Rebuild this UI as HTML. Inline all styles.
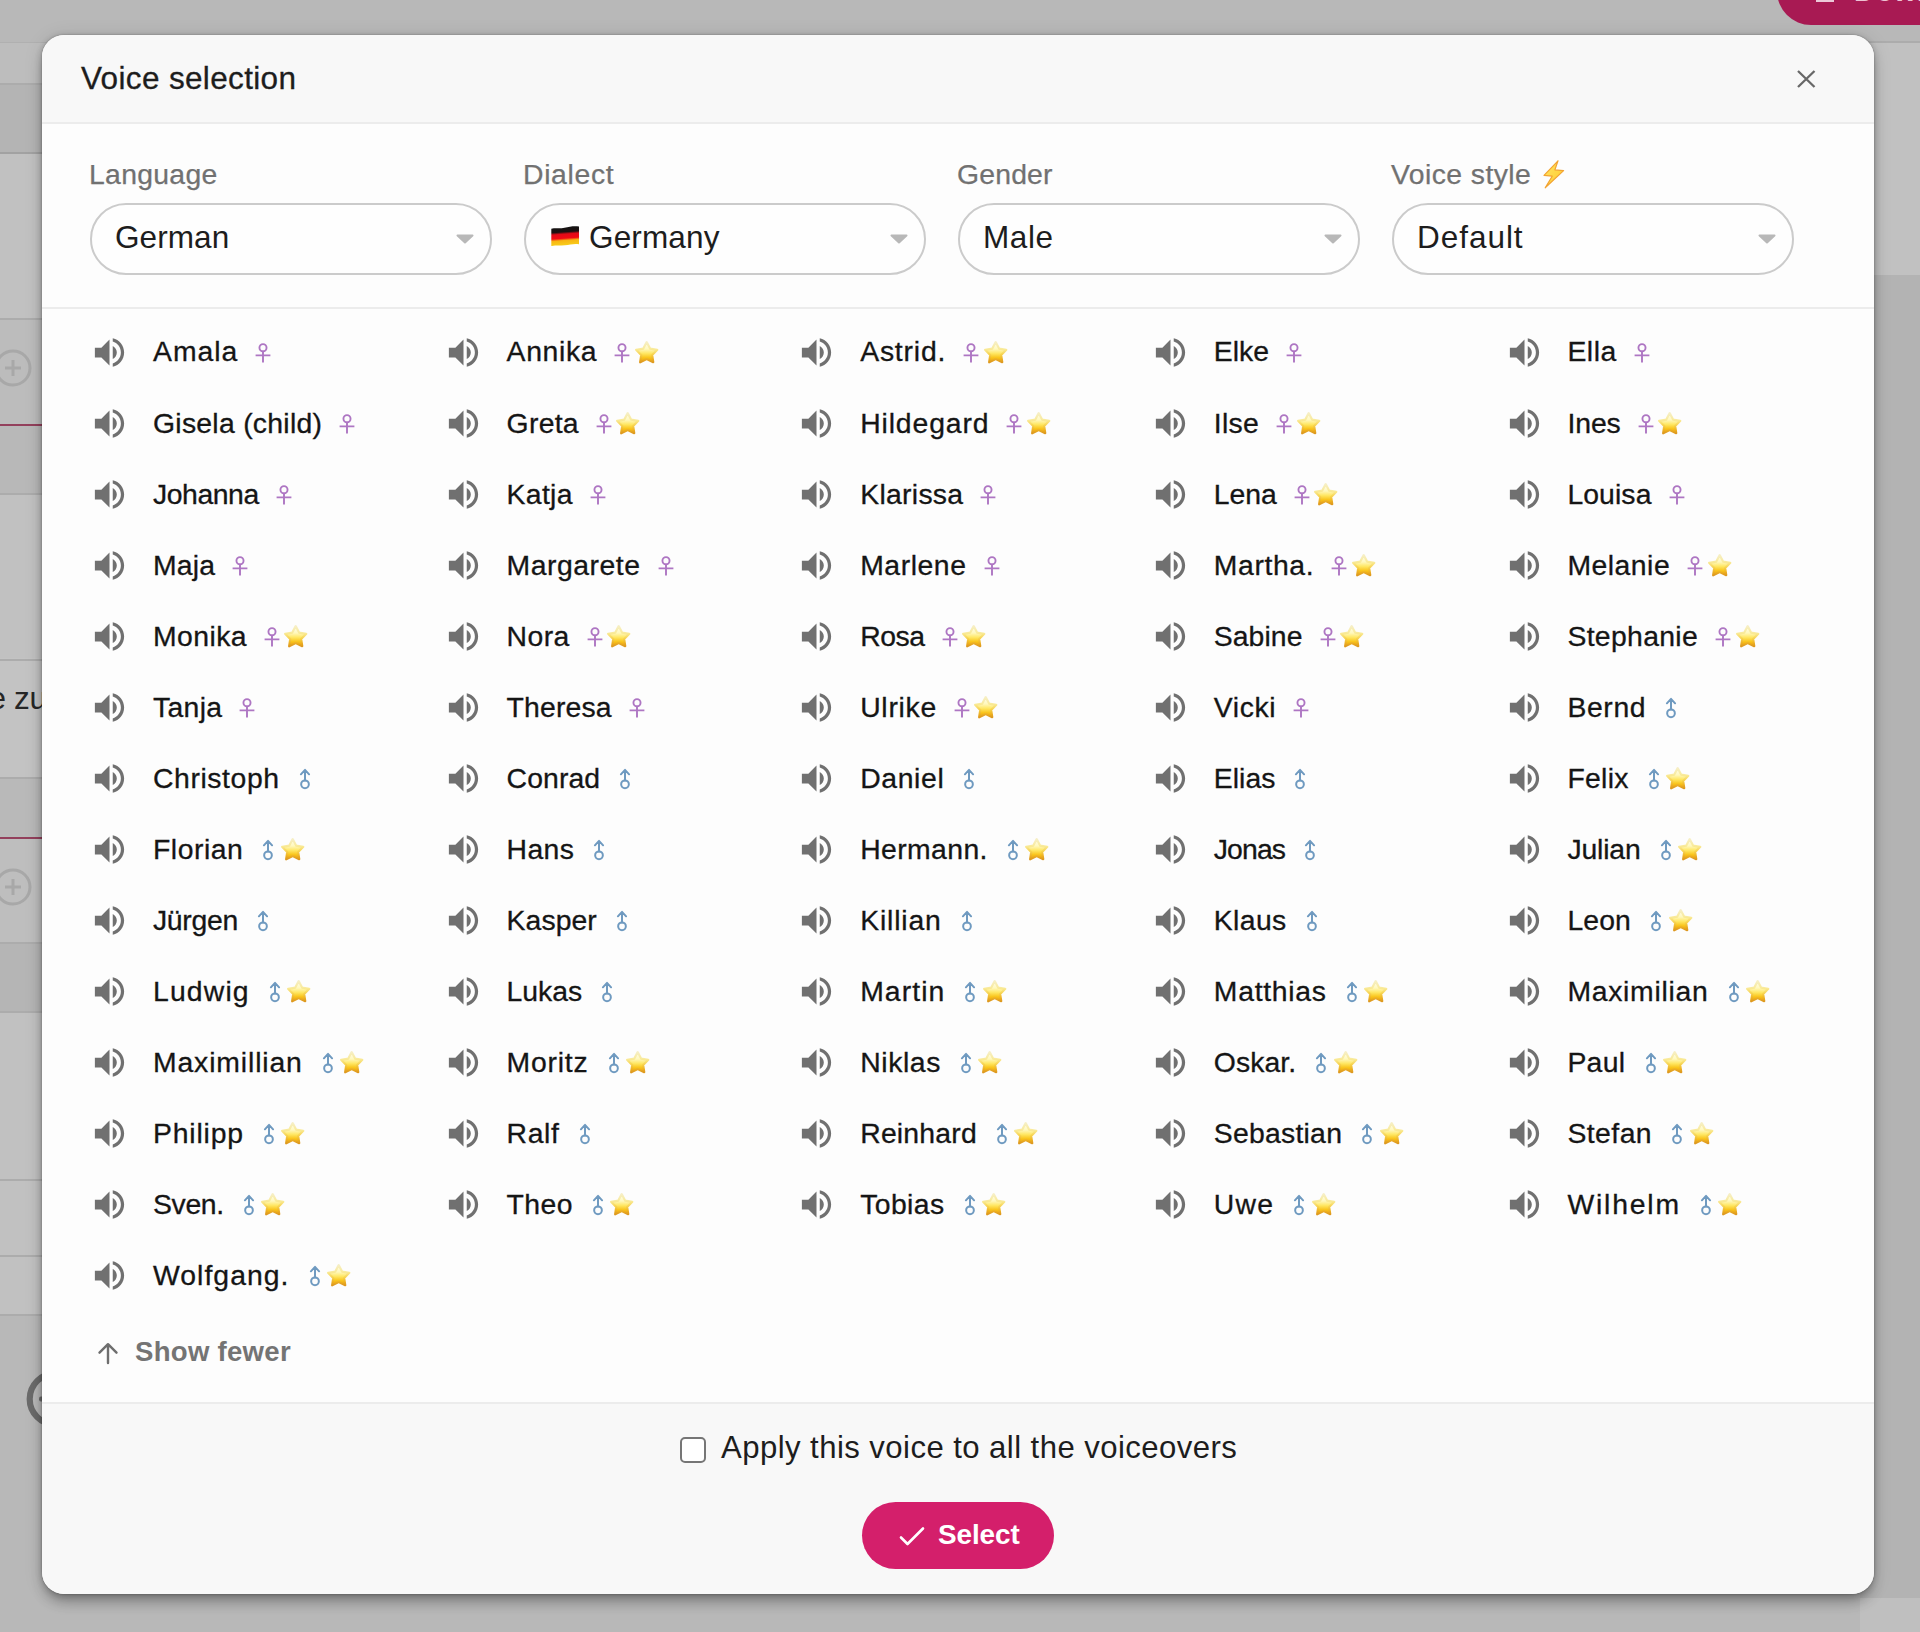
<!DOCTYPE html>
<html lang="en">
<head>
<meta charset="utf-8">
<title>Voice selection</title>
<style>
html,body{margin:0;padding:0}
body{width:1920px;height:1632px;overflow:hidden;position:relative;background:#b8b8b8;font-family:"Liberation Sans",sans-serif;color:#1d1d1d;--bo:.8465em}
.abs,.bg div,.t{position:absolute}
.t{white-space:pre;line-height:1}
/* ---------- dimmed page behind the dialog ---------- */
.bg{position:absolute;left:0;top:0;width:1920px;height:1632px;overflow:hidden}
.bg .ln{height:2px;background:#acacac}
/* ---------- dialog ---------- */
.modal{position:absolute;left:42px;top:35px;width:1832px;height:1559px;border-radius:22px;background:#fdfdfd;box-shadow:0 10px 14px -3px rgba(0,0,0,.3),0 2px 20px rgba(0,0,0,.1),0 1px 7px rgba(0,0,0,.18),0 0 2px rgba(0,0,0,.3);overflow:hidden}
.hd{position:absolute;left:0;top:0;width:100%;height:87px;background:#f8f8f8;border-bottom:2px solid #ececec}
.ft{position:absolute;left:0;top:1367px;width:100%;height:192px;background:#f8f8f8;border-top:2px solid #ececec}
.sep{position:absolute;left:0;top:272px;width:100%;height:2px;background:#ececec}
.lab{color:#717171;-webkit-text-stroke:.25px #717171}
.tt{-webkit-text-stroke:.3px #1d1d1d}
.sel{position:absolute;top:202.5px;width:398px;height:68px;border:2px solid #cbcbcb;border-radius:36px;background:#fefefe}
.car{position:absolute;top:233.5px;width:18px;height:10px;margin-left:-1px}
.car path{fill:#b8b8b8;stroke:#b8b8b8;stroke-width:2;stroke-linejoin:round}
/* ---------- list ---------- */
.it{position:absolute;width:340px;height:40px}
.spk{position:absolute;left:0.6px;top:0.5px;width:39px;height:39px;fill:#707070}
.nm{position:absolute;left:63.4px;top:calc(29.5px - var(--bo));white-space:pre;line-height:1;color:#151515;-webkit-text-stroke:.3px #151515}
.g,.s{position:absolute;display:block}
.g.f{top:11.1px}
.g.m{top:9.4px}
.gf{display:block;width:16px;height:20px;fill:none;stroke:#ae76c3;stroke-width:1.9}
.gm{display:block;width:12px;height:22px;fill:none;stroke:#6f9ac0;stroke-width:2;stroke-linecap:round;stroke-linejoin:round}
.s{top:8.6px}
.st{display:block;width:23.4px;height:22.6px;overflow:visible}
.st path{fill:url(#sg);stroke:url(#so);stroke-width:2.2;stroke-linejoin:round}
</style>
</head>
<body>
<svg width="0" height="0" style="position:absolute">
 <defs>
  <linearGradient id="sg" x1="0" y1="0" x2="0" y2="1">
   <stop offset="0" stop-color="#fffef0"/>
   <stop offset=".34" stop-color="#fff8bd"/>
   <stop offset=".56" stop-color="#ffe763"/>
   <stop offset=".78" stop-color="#f9c319"/>
   <stop offset="1" stop-color="#e89c0e"/>
  </linearGradient>
  <linearGradient id="so" x1="0" y1="0" x2="0" y2="1"><stop offset="0" stop-color="#f6efc6"/><stop offset=".35" stop-color="#f9ea98"/><stop offset=".62" stop-color="#f7d24c"/><stop offset=".85" stop-color="#ecae22"/><stop offset="1" stop-color="#dd981f"/></linearGradient>
  
 </defs>
</svg>

<div class="bg">
 <!-- top app bar area -->
 <div style="left:0;top:0;width:1920px;height:42px;background:#b8b8b8"></div>
 <!-- left column of the page -->
 <div style="left:0;top:42px;width:60px;height:42px;background:#bdbdbd"></div>
 <div style="left:0;top:84px;width:60px;height:68px;background:#b4b4b4"></div>
 <div style="left:0;top:152px;width:60px;height:166px;background:#c1c1c1"></div>
 <div style="left:0;top:318px;width:60px;height:106px;background:#bcbcbc"></div>
 <div style="left:0;top:424px;width:60px;height:70px;background:#b8b8b8"></div>
 <div style="left:0;top:494px;width:60px;height:164px;background:#c1c1c1"></div>
 <div style="left:0;top:658px;width:60px;height:120px;background:#c3c3c3"></div>
 <div style="left:0;top:778px;width:60px;height:60px;background:#b9b9b9"></div>
 <div style="left:0;top:838px;width:60px;height:105px;background:#bebebe"></div>
 <div style="left:0;top:943px;width:60px;height:69px;background:#b5b5b5"></div>
 <div style="left:0;top:1012px;width:60px;height:303px;background:#c1c1c1"></div>
 <div style="left:0;top:1315px;width:60px;height:317px;background:#b8b8b8"></div>
 <div class="ln" style="left:0;top:42px;width:60px;height:1px;background:#b0b0b0"></div>
 <div class="ln" style="left:0;top:82.500px;width:60px"></div>
 <div class="ln" style="left:0;top:152px;width:60px;background:#a2a2a2"></div>
 <div class="ln" style="left:0;top:318.300px;width:60px"></div>
 <div class="ln" style="left:0;top:423.700px;width:60px;background:#93405c"></div>
 <div class="ln" style="left:0;top:493px;width:60px"></div>
 <div class="ln" style="left:0;top:659px;width:60px"></div>
 <div class="ln" style="left:0;top:777px;width:60px"></div>
 <div class="ln" style="left:0;top:837px;width:60px;background:#93405c"></div>
 <div class="ln" style="left:0;top:942px;width:60px"></div>
 <div class="ln" style="left:0;top:1011px;width:60px"></div>
 <div class="ln" style="left:0;top:1179px;width:60px"></div>
 <div class="ln" style="left:0;top:1255px;width:60px"></div>
 <div class="ln" style="left:0;top:1314px;width:60px"></div>
 <!-- add-circle buttons -->
 <svg class="abs" style="left:-7px;top:347.6px" width="40" height="40" viewBox="0 0 40 40"><circle cx="20" cy="20" r="17" fill="none" stroke="#a8a8a8" stroke-width="3"/><path d="M20 12v16M12 20h16" stroke="#a8a8a8" stroke-width="3" fill="none"/></svg>
 <svg class="abs" style="left:-7px;top:866.6px" width="40" height="40" viewBox="0 0 40 40"><circle cx="20" cy="20" r="17" fill="none" stroke="#a8a8a8" stroke-width="3"/><path d="M20 12v16M12 20h16" stroke="#a8a8a8" stroke-width="3" fill="none"/></svg>
 <svg class="abs" style="left:20px;top:1364px" width="70" height="70" viewBox="0 0 70 70"><circle cx="35.400" cy="35" r="25.700" fill="none" stroke="#6b6b6b" stroke-width="6.200"/><rect x="19" y="32.500" width="14" height="5" rx="2" fill="#6b6b6b"/></svg>
 <span class="t" style="left:-11.5px;top:calc(709.3px - var(--bo));color:#262626;font-size:31.52px;letter-spacing:-0.379px">e zu</span>
 <!-- right side of page -->
 <div style="left:1860px;top:42px;width:60px;height:233px;background:#c1c1c1"></div>
 <div style="left:1860px;top:275px;width:60px;height:1323px;background:#b3b3b3"></div>
 <div style="left:1860px;top:1598px;width:60px;height:34px;background:#bfbfbf"></div>
 <div class="ln" style="left:1860px;top:41px;width:60px"></div>
 <!-- download button peeking in at the top right -->
 <div style="left:1777px;top:-43px;width:200px;height:68px;border-radius:34px;background:#a81a53"></div>
 <div style="left:1816px;top:-4px;width:18px;height:5.500px;background:#ecc9d8"></div>
 <span class="t" style="left:1854px;top:calc(1.6px - var(--bo));color:#eec2d3;font-weight:700;font-size:29px;letter-spacing:.5px">Download</span>
</div>

<div class="modal">
 <div class="hd"></div>
 <div class="sep"></div>
 <div class="ft"></div>
</div>

<!-- header -->
<span class="t tt" style="left:81px;top:calc(89.4px - var(--bo));font-size:31.52px;letter-spacing:0.339px">Voice selection</span>
<svg class="abs" style="left:1794px;top:67px" width="24" height="24" viewBox="0 0 24 24"><path d="M4 4l16.5 16M20.5 4L4 20" stroke="#686868" stroke-width="2.3" fill="none"/></svg>

<!-- filters -->
<span class="t lab" style="left:89px;top:calc(184.5px - var(--bo));font-size:28.368px;letter-spacing:0.301px">Language</span>
<span class="t lab" style="left:523px;top:calc(184.5px - var(--bo));font-size:28.368px;letter-spacing:0.661px">Dialect</span>
<span class="t lab" style="left:957px;top:calc(184.5px - var(--bo));font-size:28.368px;letter-spacing:0.174px">Gender</span>
<span class="t lab" style="left:1391px;top:calc(184.5px - var(--bo));font-size:28.368px;letter-spacing:0.428px">Voice style</span>
<svg class="abs" style="left:1541px;top:158px" width="26" height="32" viewBox="0 0 26 32"><defs><linearGradient id="lg" x1="0" y1="0" x2="1" y2="1"><stop offset="0" stop-color="#ffe566"/><stop offset="1" stop-color="#ffc928"/></linearGradient></defs><path d="M17 2.800L3 17.300l8.200.9L4.200 29.800 22.600 12.600l-8.700-.7z" fill="url(#lg)" stroke="#f2a332" stroke-width="1.200" stroke-linejoin="round"/></svg>

<div class="sel" style="left:90px"></div>
<div class="sel" style="left:524px"></div>
<div class="sel" style="left:958px"></div>
<div class="sel" style="left:1392px"></div>
<span class="t" style="left:115px;top:calc(248.8px - var(--bo));font-size:31.52px;letter-spacing:0.065px">German</span>
<span class="t" style="left:589px;top:calc(248.8px - var(--bo));font-size:31.52px;letter-spacing:0.132px">Germany</span>
<span class="t" style="left:983px;top:calc(248.8px - var(--bo));font-size:31.52px;letter-spacing:0.586px">Male</span>
<span class="t" style="left:1417px;top:calc(248.8px - var(--bo));font-size:31.52px;letter-spacing:0.958px">Default</span>
<svg class="abs" style="left:551.200px;top:226px" width="28.300" height="20.400" viewBox="0 0 28.300 20.400"><defs><linearGradient id="fg" gradientUnits="userSpaceOnUse" x1="13.500" y1="1" x2="14.900" y2="19.600"><stop offset="0" stop-color="#141414"/><stop offset=".26" stop-color="#1c1010"/><stop offset=".38" stop-color="#e30a17"/><stop offset=".6" stop-color="#f10a14"/><stop offset=".72" stop-color="#f7b512"/><stop offset="1" stop-color="#f8cf1c"/></linearGradient></defs><path d="M0.300 2.700C4.500 1.600 8.500 2.800 13.500 1.700S23 -0.200 28 0.500V18.300C23 17.400 19 18.800 14 19.300S5 19.100 0.300 20.100Z" fill="url(#fg)"/></svg>
<svg class="car" style="left:456.500px" viewBox="0 0 18 10"><path d="M1.5 1.500h15L9 8.500z"/></svg>
<svg class="car" style="left:890.500px" viewBox="0 0 18 10"><path d="M1.5 1.500h15L9 8.500z"/></svg>
<svg class="car" style="left:1324.500px" viewBox="0 0 18 10"><path d="M1.5 1.500h15L9 8.500z"/></svg>
<svg class="car" style="left:1758.500px" viewBox="0 0 18 10"><path d="M1.5 1.500h15L9 8.500z"/></svg>

<!-- voice list -->
<div class="it" style="left:89.6px;top:332.0px"><svg class="spk" viewBox="0 0 24 24"><path d="M3 9v6h4l5 5V4L7 9H3zm13.5 3c0-1.77-1.02-3.29-2.5-4.03v8.05c1.48-.73 2.5-2.25 2.5-4.02zM14 3.23v2.06c2.89.86 5 3.54 5 6.71s-2.11 5.85-5 6.71v2.06c4.01-.91 7-4.49 7-8.77s-2.99-7.86-7-8.77z"/></svg><span class="nm" style="font-size:28.368px;letter-spacing:0.978px">Amala</span><i class="g f" style="left:165.8px"><svg class="gf" viewBox="0 0 16 20"><circle cx="8" cy="4.7" r="3.55"/><path d="M8 8.2V19.4M0.6 12.4H15.4"/></svg></i></div>
<div class="it" style="left:443.2px;top:332.0px"><svg class="spk" viewBox="0 0 24 24"><path d="M3 9v6h4l5 5V4L7 9H3zm13.5 3c0-1.77-1.02-3.29-2.5-4.03v8.05c1.48-.73 2.5-2.25 2.5-4.02zM14 3.23v2.06c2.89.86 5 3.54 5 6.71s-2.11 5.85-5 6.71v2.06c4.01-.91 7-4.49 7-8.77s-2.99-7.86-7-8.77z"/></svg><span class="nm" style="font-size:28.368px;letter-spacing:0.667px">Annika</span><i class="g f" style="left:171.2px"><svg class="gf" viewBox="0 0 16 20"><circle cx="8" cy="4.7" r="3.55"/><path d="M8 8.2V19.4M0.6 12.4H15.4"/></svg></i><i class="s" style="left:191.6px"><svg class="st" viewBox="0 0 23.4 22.6"><path d="M11.70 1.10L15.08 7.60L22.30 8.80L17.17 14.03L18.25 21.27L11.70 18.00L5.15 21.27L6.23 14.03L1.10 8.80L8.32 7.60Z"/></svg></i></div>
<div class="it" style="left:796.8px;top:332.0px"><svg class="spk" viewBox="0 0 24 24"><path d="M3 9v6h4l5 5V4L7 9H3zm13.5 3c0-1.77-1.02-3.29-2.5-4.03v8.05c1.48-.73 2.5-2.25 2.5-4.02zM14 3.23v2.06c2.89.86 5 3.54 5 6.71s-2.11 5.85-5 6.71v2.06c4.01-.91 7-4.49 7-8.77s-2.99-7.86-7-8.77z"/></svg><span class="nm" style="font-size:28.368px;letter-spacing:0.795px">Astrid.</span><i class="g f" style="left:166.4px"><svg class="gf" viewBox="0 0 16 20"><circle cx="8" cy="4.7" r="3.55"/><path d="M8 8.2V19.4M0.6 12.4H15.4"/></svg></i><i class="s" style="left:186.8px"><svg class="st" viewBox="0 0 23.4 22.6"><path d="M11.70 1.10L15.08 7.60L22.30 8.80L17.17 14.03L18.25 21.27L11.70 18.00L5.15 21.27L6.23 14.03L1.10 8.80L8.32 7.60Z"/></svg></i></div>
<div class="it" style="left:1150.4px;top:332.0px"><svg class="spk" viewBox="0 0 24 24"><path d="M3 9v6h4l5 5V4L7 9H3zm13.5 3c0-1.77-1.02-3.29-2.5-4.03v8.05c1.48-.73 2.5-2.25 2.5-4.02zM14 3.23v2.06c2.89.86 5 3.54 5 6.71s-2.11 5.85-5 6.71v2.06c4.01-.91 7-4.49 7-8.77s-2.99-7.86-7-8.77z"/></svg><span class="nm" style="font-size:28.368px;letter-spacing:0.008px">Elke</span><i class="g f" style="left:135.7px"><svg class="gf" viewBox="0 0 16 20"><circle cx="8" cy="4.7" r="3.55"/><path d="M8 8.2V19.4M0.6 12.4H15.4"/></svg></i></div>
<div class="it" style="left:1504.0px;top:332.0px"><svg class="spk" viewBox="0 0 24 24"><path d="M3 9v6h4l5 5V4L7 9H3zm13.5 3c0-1.77-1.02-3.29-2.5-4.03v8.05c1.48-.73 2.5-2.25 2.5-4.02zM14 3.23v2.06c2.89.86 5 3.54 5 6.71s-2.11 5.85-5 6.71v2.06c4.01-.91 7-4.49 7-8.77s-2.99-7.86-7-8.77z"/></svg><span class="nm" style="font-size:28.368px;letter-spacing:0.566px">Ella</span><i class="g f" style="left:130.1px"><svg class="gf" viewBox="0 0 16 20"><circle cx="8" cy="4.7" r="3.55"/><path d="M8 8.2V19.4M0.6 12.4H15.4"/></svg></i></div>
<div class="it" style="left:89.6px;top:403.1px"><svg class="spk" viewBox="0 0 24 24"><path d="M3 9v6h4l5 5V4L7 9H3zm13.5 3c0-1.77-1.02-3.29-2.5-4.03v8.05c1.48-.73 2.5-2.25 2.5-4.02zM14 3.23v2.06c2.89.86 5 3.54 5 6.71s-2.11 5.85-5 6.71v2.06c4.01-.91 7-4.49 7-8.77s-2.99-7.86-7-8.77z"/></svg><span class="nm" style="font-size:28.368px;letter-spacing:0.269px">Gisela (child)</span><i class="g f" style="left:249.8px"><svg class="gf" viewBox="0 0 16 20"><circle cx="8" cy="4.7" r="3.55"/><path d="M8 8.2V19.4M0.6 12.4H15.4"/></svg></i></div>
<div class="it" style="left:443.2px;top:403.1px"><svg class="spk" viewBox="0 0 24 24"><path d="M3 9v6h4l5 5V4L7 9H3zm13.5 3c0-1.77-1.02-3.29-2.5-4.03v8.05c1.48-.73 2.5-2.25 2.5-4.02zM14 3.23v2.06c2.89.86 5 3.54 5 6.71s-2.11 5.85-5 6.71v2.06c4.01-.91 7-4.49 7-8.77s-2.99-7.86-7-8.77z"/></svg><span class="nm" style="font-size:28.368px;letter-spacing:0.278px">Greta</span><i class="g f" style="left:152.8px"><svg class="gf" viewBox="0 0 16 20"><circle cx="8" cy="4.7" r="3.55"/><path d="M8 8.2V19.4M0.6 12.4H15.4"/></svg></i><i class="s" style="left:173.2px"><svg class="st" viewBox="0 0 23.4 22.6"><path d="M11.70 1.10L15.08 7.60L22.30 8.80L17.17 14.03L18.25 21.27L11.70 18.00L5.15 21.27L6.23 14.03L1.10 8.80L8.32 7.60Z"/></svg></i></div>
<div class="it" style="left:796.8px;top:403.1px"><svg class="spk" viewBox="0 0 24 24"><path d="M3 9v6h4l5 5V4L7 9H3zm13.5 3c0-1.77-1.02-3.29-2.5-4.03v8.05c1.48-.73 2.5-2.25 2.5-4.02zM14 3.23v2.06c2.89.86 5 3.54 5 6.71s-2.11 5.85-5 6.71v2.06c4.01-.91 7-4.49 7-8.77s-2.99-7.86-7-8.77z"/></svg><span class="nm" style="font-size:28.368px;letter-spacing:0.868px">Hildegard</span><i class="g f" style="left:209.7px"><svg class="gf" viewBox="0 0 16 20"><circle cx="8" cy="4.7" r="3.55"/><path d="M8 8.2V19.4M0.6 12.4H15.4"/></svg></i><i class="s" style="left:230.1px"><svg class="st" viewBox="0 0 23.4 22.6"><path d="M11.70 1.10L15.08 7.60L22.30 8.80L17.17 14.03L18.25 21.27L11.70 18.00L5.15 21.27L6.23 14.03L1.10 8.80L8.32 7.60Z"/></svg></i></div>
<div class="it" style="left:1150.4px;top:403.1px"><svg class="spk" viewBox="0 0 24 24"><path d="M3 9v6h4l5 5V4L7 9H3zm13.5 3c0-1.77-1.02-3.29-2.5-4.03v8.05c1.48-.73 2.5-2.25 2.5-4.02zM14 3.23v2.06c2.89.86 5 3.54 5 6.71s-2.11 5.85-5 6.71v2.06c4.01-.91 7-4.49 7-8.77s-2.99-7.86-7-8.77z"/></svg><span class="nm" style="font-size:28.368px;letter-spacing:0.305px">Ilse</span><i class="g f" style="left:125.9px"><svg class="gf" viewBox="0 0 16 20"><circle cx="8" cy="4.7" r="3.55"/><path d="M8 8.2V19.4M0.6 12.4H15.4"/></svg></i><i class="s" style="left:146.3px"><svg class="st" viewBox="0 0 23.4 22.6"><path d="M11.70 1.10L15.08 7.60L22.30 8.80L17.17 14.03L18.25 21.27L11.70 18.00L5.15 21.27L6.23 14.03L1.10 8.80L8.32 7.60Z"/></svg></i></div>
<div class="it" style="left:1504.0px;top:403.1px"><svg class="spk" viewBox="0 0 24 24"><path d="M3 9v6h4l5 5V4L7 9H3zm13.5 3c0-1.77-1.02-3.29-2.5-4.03v8.05c1.48-.73 2.5-2.25 2.5-4.02zM14 3.23v2.06c2.89.86 5 3.54 5 6.71s-2.11 5.85-5 6.71v2.06c4.01-.91 7-4.49 7-8.77s-2.99-7.86-7-8.77z"/></svg><span class="nm" style="font-size:28.368px;letter-spacing:-0.074px">Ines</span><i class="g f" style="left:133.8px"><svg class="gf" viewBox="0 0 16 20"><circle cx="8" cy="4.7" r="3.55"/><path d="M8 8.2V19.4M0.6 12.4H15.4"/></svg></i><i class="s" style="left:154.2px"><svg class="st" viewBox="0 0 23.4 22.6"><path d="M11.70 1.10L15.08 7.60L22.30 8.80L17.17 14.03L18.25 21.27L11.70 18.00L5.15 21.27L6.23 14.03L1.10 8.80L8.32 7.60Z"/></svg></i></div>
<div class="it" style="left:89.6px;top:474.1px"><svg class="spk" viewBox="0 0 24 24"><path d="M3 9v6h4l5 5V4L7 9H3zm13.5 3c0-1.77-1.02-3.29-2.5-4.03v8.05c1.48-.73 2.5-2.25 2.5-4.02zM14 3.23v2.06c2.89.86 5 3.54 5 6.71s-2.11 5.85-5 6.71v2.06c4.01-.91 7-4.49 7-8.77s-2.99-7.86-7-8.77z"/></svg><span class="nm" style="font-size:28.368px;letter-spacing:-0.435px">Johanna</span><i class="g f" style="left:186.3px"><svg class="gf" viewBox="0 0 16 20"><circle cx="8" cy="4.7" r="3.55"/><path d="M8 8.2V19.4M0.6 12.4H15.4"/></svg></i></div>
<div class="it" style="left:443.2px;top:474.1px"><svg class="spk" viewBox="0 0 24 24"><path d="M3 9v6h4l5 5V4L7 9H3zm13.5 3c0-1.77-1.02-3.29-2.5-4.03v8.05c1.48-.73 2.5-2.25 2.5-4.02zM14 3.23v2.06c2.89.86 5 3.54 5 6.71s-2.11 5.85-5 6.71v2.06c4.01-.91 7-4.49 7-8.77s-2.99-7.86-7-8.77z"/></svg><span class="nm" style="font-size:28.368px;letter-spacing:0.316px">Katja</span><i class="g f" style="left:146.7px"><svg class="gf" viewBox="0 0 16 20"><circle cx="8" cy="4.7" r="3.55"/><path d="M8 8.2V19.4M0.6 12.4H15.4"/></svg></i></div>
<div class="it" style="left:796.8px;top:474.1px"><svg class="spk" viewBox="0 0 24 24"><path d="M3 9v6h4l5 5V4L7 9H3zm13.5 3c0-1.77-1.02-3.29-2.5-4.03v8.05c1.48-.73 2.5-2.25 2.5-4.02zM14 3.23v2.06c2.89.86 5 3.54 5 6.71s-2.11 5.85-5 6.71v2.06c4.01-.91 7-4.49 7-8.77s-2.99-7.86-7-8.77z"/></svg><span class="nm" style="font-size:28.368px;letter-spacing:0.291px">Klarissa</span><i class="g f" style="left:183.7px"><svg class="gf" viewBox="0 0 16 20"><circle cx="8" cy="4.7" r="3.55"/><path d="M8 8.2V19.4M0.6 12.4H15.4"/></svg></i></div>
<div class="it" style="left:1150.4px;top:474.1px"><svg class="spk" viewBox="0 0 24 24"><path d="M3 9v6h4l5 5V4L7 9H3zm13.5 3c0-1.77-1.02-3.29-2.5-4.03v8.05c1.48-.73 2.5-2.25 2.5-4.02zM14 3.23v2.06c2.89.86 5 3.54 5 6.71s-2.11 5.85-5 6.71v2.06c4.01-.91 7-4.49 7-8.77s-2.99-7.86-7-8.77z"/></svg><span class="nm" style="font-size:28.368px;letter-spacing:-0.062px">Lena</span><i class="g f" style="left:143.3px"><svg class="gf" viewBox="0 0 16 20"><circle cx="8" cy="4.7" r="3.55"/><path d="M8 8.2V19.4M0.6 12.4H15.4"/></svg></i><i class="s" style="left:163.7px"><svg class="st" viewBox="0 0 23.4 22.6"><path d="M11.70 1.10L15.08 7.60L22.30 8.80L17.17 14.03L18.25 21.27L11.70 18.00L5.15 21.27L6.23 14.03L1.10 8.80L8.32 7.60Z"/></svg></i></div>
<div class="it" style="left:1504.0px;top:474.1px"><svg class="spk" viewBox="0 0 24 24"><path d="M3 9v6h4l5 5V4L7 9H3zm13.5 3c0-1.77-1.02-3.29-2.5-4.03v8.05c1.48-.73 2.5-2.25 2.5-4.02zM14 3.23v2.06c2.89.86 5 3.54 5 6.71s-2.11 5.85-5 6.71v2.06c4.01-.91 7-4.49 7-8.77s-2.99-7.86-7-8.77z"/></svg><span class="nm" style="font-size:28.368px;letter-spacing:0.091px">Louisa</span><i class="g f" style="left:164.6px"><svg class="gf" viewBox="0 0 16 20"><circle cx="8" cy="4.7" r="3.55"/><path d="M8 8.2V19.4M0.6 12.4H15.4"/></svg></i></div>
<div class="it" style="left:89.6px;top:545.1px"><svg class="spk" viewBox="0 0 24 24"><path d="M3 9v6h4l5 5V4L7 9H3zm13.5 3c0-1.77-1.02-3.29-2.5-4.03v8.05c1.48-.73 2.5-2.25 2.5-4.02zM14 3.23v2.06c2.89.86 5 3.54 5 6.71s-2.11 5.85-5 6.71v2.06c4.01-.91 7-4.49 7-8.77s-2.99-7.86-7-8.77z"/></svg><span class="nm" style="font-size:28.368px;letter-spacing:0.223px">Maja</span><i class="g f" style="left:142.9px"><svg class="gf" viewBox="0 0 16 20"><circle cx="8" cy="4.7" r="3.55"/><path d="M8 8.2V19.4M0.6 12.4H15.4"/></svg></i></div>
<div class="it" style="left:443.2px;top:545.1px"><svg class="spk" viewBox="0 0 24 24"><path d="M3 9v6h4l5 5V4L7 9H3zm13.5 3c0-1.77-1.02-3.29-2.5-4.03v8.05c1.48-.73 2.5-2.25 2.5-4.02zM14 3.23v2.06c2.89.86 5 3.54 5 6.71s-2.11 5.85-5 6.71v2.06c4.01-.91 7-4.49 7-8.77s-2.99-7.86-7-8.77z"/></svg><span class="nm" style="font-size:28.368px;letter-spacing:0.519px">Margarete</span><i class="g f" style="left:214.4px"><svg class="gf" viewBox="0 0 16 20"><circle cx="8" cy="4.7" r="3.55"/><path d="M8 8.2V19.4M0.6 12.4H15.4"/></svg></i></div>
<div class="it" style="left:796.8px;top:545.1px"><svg class="spk" viewBox="0 0 24 24"><path d="M3 9v6h4l5 5V4L7 9H3zm13.5 3c0-1.77-1.02-3.29-2.5-4.03v8.05c1.48-.73 2.5-2.25 2.5-4.02zM14 3.23v2.06c2.89.86 5 3.54 5 6.71s-2.11 5.85-5 6.71v2.06c4.01-.91 7-4.49 7-8.77s-2.99-7.86-7-8.77z"/></svg><span class="nm" style="font-size:28.368px;letter-spacing:0.551px">Marlene</span><i class="g f" style="left:186.8px"><svg class="gf" viewBox="0 0 16 20"><circle cx="8" cy="4.7" r="3.55"/><path d="M8 8.2V19.4M0.6 12.4H15.4"/></svg></i></div>
<div class="it" style="left:1150.4px;top:545.1px"><svg class="spk" viewBox="0 0 24 24"><path d="M3 9v6h4l5 5V4L7 9H3zm13.5 3c0-1.77-1.02-3.29-2.5-4.03v8.05c1.48-.73 2.5-2.25 2.5-4.02zM14 3.23v2.06c2.89.86 5 3.54 5 6.71s-2.11 5.85-5 6.71v2.06c4.01-.91 7-4.49 7-8.77s-2.99-7.86-7-8.77z"/></svg><span class="nm" style="font-size:28.368px;letter-spacing:0.607px">Martha.</span><i class="g f" style="left:180.9px"><svg class="gf" viewBox="0 0 16 20"><circle cx="8" cy="4.7" r="3.55"/><path d="M8 8.2V19.4M0.6 12.4H15.4"/></svg></i><i class="s" style="left:201.3px"><svg class="st" viewBox="0 0 23.4 22.6"><path d="M11.70 1.10L15.08 7.60L22.30 8.80L17.17 14.03L18.25 21.27L11.70 18.00L5.15 21.27L6.23 14.03L1.10 8.80L8.32 7.60Z"/></svg></i></div>
<div class="it" style="left:1504.0px;top:545.1px"><svg class="spk" viewBox="0 0 24 24"><path d="M3 9v6h4l5 5V4L7 9H3zm13.5 3c0-1.77-1.02-3.29-2.5-4.03v8.05c1.48-.73 2.5-2.25 2.5-4.02zM14 3.23v2.06c2.89.86 5 3.54 5 6.71s-2.11 5.85-5 6.71v2.06c4.01-.91 7-4.49 7-8.77s-2.99-7.86-7-8.77z"/></svg><span class="nm" style="font-size:28.368px;letter-spacing:0.493px">Melanie</span><i class="g f" style="left:183.3px"><svg class="gf" viewBox="0 0 16 20"><circle cx="8" cy="4.7" r="3.55"/><path d="M8 8.2V19.4M0.6 12.4H15.4"/></svg></i><i class="s" style="left:203.7px"><svg class="st" viewBox="0 0 23.4 22.6"><path d="M11.70 1.10L15.08 7.60L22.30 8.80L17.17 14.03L18.25 21.27L11.70 18.00L5.15 21.27L6.23 14.03L1.10 8.80L8.32 7.60Z"/></svg></i></div>
<div class="it" style="left:89.6px;top:616.2px"><svg class="spk" viewBox="0 0 24 24"><path d="M3 9v6h4l5 5V4L7 9H3zm13.5 3c0-1.77-1.02-3.29-2.5-4.03v8.05c1.48-.73 2.5-2.25 2.5-4.02zM14 3.23v2.06c2.89.86 5 3.54 5 6.71s-2.11 5.85-5 6.71v2.06c4.01-.91 7-4.49 7-8.77s-2.99-7.86-7-8.77z"/></svg><span class="nm" style="font-size:28.368px;letter-spacing:0.424px">Monika</span><i class="g f" style="left:174.5px"><svg class="gf" viewBox="0 0 16 20"><circle cx="8" cy="4.7" r="3.55"/><path d="M8 8.2V19.4M0.6 12.4H15.4"/></svg></i><i class="s" style="left:194.9px"><svg class="st" viewBox="0 0 23.4 22.6"><path d="M11.70 1.10L15.08 7.60L22.30 8.80L17.17 14.03L18.25 21.27L11.70 18.00L5.15 21.27L6.23 14.03L1.10 8.80L8.32 7.60Z"/></svg></i></div>
<div class="it" style="left:443.2px;top:616.2px"><svg class="spk" viewBox="0 0 24 24"><path d="M3 9v6h4l5 5V4L7 9H3zm13.5 3c0-1.77-1.02-3.29-2.5-4.03v8.05c1.48-.73 2.5-2.25 2.5-4.02zM14 3.23v2.06c2.89.86 5 3.54 5 6.71s-2.11 5.85-5 6.71v2.06c4.01-.91 7-4.49 7-8.77s-2.99-7.86-7-8.77z"/></svg><span class="nm" style="font-size:28.368px;letter-spacing:0.430px">Nora</span><i class="g f" style="left:143.7px"><svg class="gf" viewBox="0 0 16 20"><circle cx="8" cy="4.7" r="3.55"/><path d="M8 8.2V19.4M0.6 12.4H15.4"/></svg></i><i class="s" style="left:164.1px"><svg class="st" viewBox="0 0 23.4 22.6"><path d="M11.70 1.10L15.08 7.60L22.30 8.80L17.17 14.03L18.25 21.27L11.70 18.00L5.15 21.27L6.23 14.03L1.10 8.80L8.32 7.60Z"/></svg></i></div>
<div class="it" style="left:796.8px;top:616.2px"><svg class="spk" viewBox="0 0 24 24"><path d="M3 9v6h4l5 5V4L7 9H3zm13.5 3c0-1.77-1.02-3.29-2.5-4.03v8.05c1.48-.73 2.5-2.25 2.5-4.02zM14 3.23v2.06c2.89.86 5 3.54 5 6.71s-2.11 5.85-5 6.71v2.06c4.01-.91 7-4.49 7-8.77s-2.99-7.86-7-8.77z"/></svg><span class="nm" style="font-size:28.368px;letter-spacing:-0.445px">Rosa</span><i class="g f" style="left:144.9px"><svg class="gf" viewBox="0 0 16 20"><circle cx="8" cy="4.7" r="3.55"/><path d="M8 8.2V19.4M0.6 12.4H15.4"/></svg></i><i class="s" style="left:165.3px"><svg class="st" viewBox="0 0 23.4 22.6"><path d="M11.70 1.10L15.08 7.60L22.30 8.80L17.17 14.03L18.25 21.27L11.70 18.00L5.15 21.27L6.23 14.03L1.10 8.80L8.32 7.60Z"/></svg></i></div>
<div class="it" style="left:1150.4px;top:616.2px"><svg class="spk" viewBox="0 0 24 24"><path d="M3 9v6h4l5 5V4L7 9H3zm13.5 3c0-1.77-1.02-3.29-2.5-4.03v8.05c1.48-.73 2.5-2.25 2.5-4.02zM14 3.23v2.06c2.89.86 5 3.54 5 6.71s-2.11 5.85-5 6.71v2.06c4.01-.91 7-4.49 7-8.77s-2.99-7.86-7-8.77z"/></svg><span class="nm" style="font-size:28.368px;letter-spacing:0.070px">Sabine</span><i class="g f" style="left:169.2px"><svg class="gf" viewBox="0 0 16 20"><circle cx="8" cy="4.7" r="3.55"/><path d="M8 8.2V19.4M0.6 12.4H15.4"/></svg></i><i class="s" style="left:189.6px"><svg class="st" viewBox="0 0 23.4 22.6"><path d="M11.70 1.10L15.08 7.60L22.30 8.80L17.17 14.03L18.25 21.27L11.70 18.00L5.15 21.27L6.23 14.03L1.10 8.80L8.32 7.60Z"/></svg></i></div>
<div class="it" style="left:1504.0px;top:616.2px"><svg class="spk" viewBox="0 0 24 24"><path d="M3 9v6h4l5 5V4L7 9H3zm13.5 3c0-1.77-1.02-3.29-2.5-4.03v8.05c1.48-.73 2.5-2.25 2.5-4.02zM14 3.23v2.06c2.89.86 5 3.54 5 6.71s-2.11 5.85-5 6.71v2.06c4.01-.91 7-4.49 7-8.77s-2.99-7.86-7-8.77z"/></svg><span class="nm" style="font-size:28.368px;letter-spacing:0.326px">Stephanie</span><i class="g f" style="left:211.2px"><svg class="gf" viewBox="0 0 16 20"><circle cx="8" cy="4.7" r="3.55"/><path d="M8 8.2V19.4M0.6 12.4H15.4"/></svg></i><i class="s" style="left:231.6px"><svg class="st" viewBox="0 0 23.4 22.6"><path d="M11.70 1.10L15.08 7.60L22.30 8.80L17.17 14.03L18.25 21.27L11.70 18.00L5.15 21.27L6.23 14.03L1.10 8.80L8.32 7.60Z"/></svg></i></div>
<div class="it" style="left:89.6px;top:687.2px"><svg class="spk" viewBox="0 0 24 24"><path d="M3 9v6h4l5 5V4L7 9H3zm13.5 3c0-1.77-1.02-3.29-2.5-4.03v8.05c1.48-.73 2.5-2.25 2.5-4.02zM14 3.23v2.06c2.89.86 5 3.54 5 6.71s-2.11 5.85-5 6.71v2.06c4.01-.91 7-4.49 7-8.77s-2.99-7.86-7-8.77z"/></svg><span class="nm" style="font-size:28.368px;letter-spacing:0.319px">Tanja</span><i class="g f" style="left:149.9px"><svg class="gf" viewBox="0 0 16 20"><circle cx="8" cy="4.7" r="3.55"/><path d="M8 8.2V19.4M0.6 12.4H15.4"/></svg></i></div>
<div class="it" style="left:443.2px;top:687.2px"><svg class="spk" viewBox="0 0 24 24"><path d="M3 9v6h4l5 5V4L7 9H3zm13.5 3c0-1.77-1.02-3.29-2.5-4.03v8.05c1.48-.73 2.5-2.25 2.5-4.02zM14 3.23v2.06c2.89.86 5 3.54 5 6.71s-2.11 5.85-5 6.71v2.06c4.01-.91 7-4.49 7-8.77s-2.99-7.86-7-8.77z"/></svg><span class="nm" style="font-size:28.368px;letter-spacing:0.167px">Theresa</span><i class="g f" style="left:185.7px"><svg class="gf" viewBox="0 0 16 20"><circle cx="8" cy="4.7" r="3.55"/><path d="M8 8.2V19.4M0.6 12.4H15.4"/></svg></i></div>
<div class="it" style="left:796.8px;top:687.2px"><svg class="spk" viewBox="0 0 24 24"><path d="M3 9v6h4l5 5V4L7 9H3zm13.5 3c0-1.77-1.02-3.29-2.5-4.03v8.05c1.48-.73 2.5-2.25 2.5-4.02zM14 3.23v2.06c2.89.86 5 3.54 5 6.71s-2.11 5.85-5 6.71v2.06c4.01-.91 7-4.49 7-8.77s-2.99-7.86-7-8.77z"/></svg><span class="nm" style="font-size:28.368px;letter-spacing:0.706px">Ulrike</span><i class="g f" style="left:157.2px"><svg class="gf" viewBox="0 0 16 20"><circle cx="8" cy="4.7" r="3.55"/><path d="M8 8.2V19.4M0.6 12.4H15.4"/></svg></i><i class="s" style="left:177.6px"><svg class="st" viewBox="0 0 23.4 22.6"><path d="M11.70 1.10L15.08 7.60L22.30 8.80L17.17 14.03L18.25 21.27L11.70 18.00L5.15 21.27L6.23 14.03L1.10 8.80L8.32 7.60Z"/></svg></i></div>
<div class="it" style="left:1150.4px;top:687.2px"><svg class="spk" viewBox="0 0 24 24"><path d="M3 9v6h4l5 5V4L7 9H3zm13.5 3c0-1.77-1.02-3.29-2.5-4.03v8.05c1.48-.73 2.5-2.25 2.5-4.02zM14 3.23v2.06c2.89.86 5 3.54 5 6.71s-2.11 5.85-5 6.71v2.06c4.01-.91 7-4.49 7-8.77s-2.99-7.86-7-8.77z"/></svg><span class="nm" style="font-size:28.368px;letter-spacing:0.628px">Vicki</span><i class="g f" style="left:143.0px"><svg class="gf" viewBox="0 0 16 20"><circle cx="8" cy="4.7" r="3.55"/><path d="M8 8.2V19.4M0.6 12.4H15.4"/></svg></i></div>
<div class="it" style="left:1504.0px;top:687.2px"><svg class="spk" viewBox="0 0 24 24"><path d="M3 9v6h4l5 5V4L7 9H3zm13.5 3c0-1.77-1.02-3.29-2.5-4.03v8.05c1.48-.73 2.5-2.25 2.5-4.02zM14 3.23v2.06c2.89.86 5 3.54 5 6.71s-2.11 5.85-5 6.71v2.06c4.01-.91 7-4.49 7-8.77s-2.99-7.86-7-8.77z"/></svg><span class="nm" style="font-size:28.368px;letter-spacing:0.628px">Bernd</span><i class="g m" style="left:161.3px"><svg class="gm" viewBox="0 0 12 22"><circle cx="6" cy="16.3" r="3.85"/><path d="M6 12.4V1.9M1.9 6.3L6 1.8L10.1 6.3"/></svg></i></div>
<div class="it" style="left:89.6px;top:758.3px"><svg class="spk" viewBox="0 0 24 24"><path d="M3 9v6h4l5 5V4L7 9H3zm13.5 3c0-1.77-1.02-3.29-2.5-4.03v8.05c1.48-.73 2.5-2.25 2.5-4.02zM14 3.23v2.06c2.89.86 5 3.54 5 6.71s-2.11 5.85-5 6.71v2.06c4.01-.91 7-4.49 7-8.77s-2.99-7.86-7-8.77z"/></svg><span class="nm" style="font-size:28.368px;letter-spacing:0.590px">Christoph</span><i class="g m" style="left:209.2px"><svg class="gm" viewBox="0 0 12 22"><circle cx="6" cy="16.3" r="3.85"/><path d="M6 12.4V1.9M1.9 6.3L6 1.8L10.1 6.3"/></svg></i></div>
<div class="it" style="left:443.2px;top:758.3px"><svg class="spk" viewBox="0 0 24 24"><path d="M3 9v6h4l5 5V4L7 9H3zm13.5 3c0-1.77-1.02-3.29-2.5-4.03v8.05c1.48-.73 2.5-2.25 2.5-4.02zM14 3.23v2.06c2.89.86 5 3.54 5 6.71s-2.11 5.85-5 6.71v2.06c4.01-.91 7-4.49 7-8.77s-2.99-7.86-7-8.77z"/></svg><span class="nm" style="font-size:28.368px;letter-spacing:0.107px">Conrad</span><i class="g m" style="left:176.2px"><svg class="gm" viewBox="0 0 12 22"><circle cx="6" cy="16.3" r="3.85"/><path d="M6 12.4V1.9M1.9 6.3L6 1.8L10.1 6.3"/></svg></i></div>
<div class="it" style="left:796.8px;top:758.3px"><svg class="spk" viewBox="0 0 24 24"><path d="M3 9v6h4l5 5V4L7 9H3zm13.5 3c0-1.77-1.02-3.29-2.5-4.03v8.05c1.48-.73 2.5-2.25 2.5-4.02zM14 3.23v2.06c2.89.86 5 3.54 5 6.71s-2.11 5.85-5 6.71v2.06c4.01-.91 7-4.49 7-8.77s-2.99-7.86-7-8.77z"/></svg><span class="nm" style="font-size:28.368px;letter-spacing:0.633px">Daniel</span><i class="g m" style="left:166.7px"><svg class="gm" viewBox="0 0 12 22"><circle cx="6" cy="16.3" r="3.85"/><path d="M6 12.4V1.9M1.9 6.3L6 1.8L10.1 6.3"/></svg></i></div>
<div class="it" style="left:1150.4px;top:758.3px"><svg class="spk" viewBox="0 0 24 24"><path d="M3 9v6h4l5 5V4L7 9H3zm13.5 3c0-1.77-1.02-3.29-2.5-4.03v8.05c1.48-.73 2.5-2.25 2.5-4.02zM14 3.23v2.06c2.89.86 5 3.54 5 6.71s-2.11 5.85-5 6.71v2.06c4.01-.91 7-4.49 7-8.77s-2.99-7.86-7-8.77z"/></svg><span class="nm" style="font-size:28.368px;letter-spacing:0.034px">Elias</span><i class="g m" style="left:144.1px"><svg class="gm" viewBox="0 0 12 22"><circle cx="6" cy="16.3" r="3.85"/><path d="M6 12.4V1.9M1.9 6.3L6 1.8L10.1 6.3"/></svg></i></div>
<div class="it" style="left:1504.0px;top:758.3px"><svg class="spk" viewBox="0 0 24 24"><path d="M3 9v6h4l5 5V4L7 9H3zm13.5 3c0-1.77-1.02-3.29-2.5-4.03v8.05c1.48-.73 2.5-2.25 2.5-4.02zM14 3.23v2.06c2.89.86 5 3.54 5 6.71s-2.11 5.85-5 6.71v2.06c4.01-.91 7-4.49 7-8.77s-2.99-7.86-7-8.77z"/></svg><span class="nm" style="font-size:28.368px;letter-spacing:0.316px">Felix</span><i class="g m" style="left:144.0px"><svg class="gm" viewBox="0 0 12 22"><circle cx="6" cy="16.3" r="3.85"/><path d="M6 12.4V1.9M1.9 6.3L6 1.8L10.1 6.3"/></svg></i><i class="s" style="left:162.4px"><svg class="st" viewBox="0 0 23.4 22.6"><path d="M11.70 1.10L15.08 7.60L22.30 8.80L17.17 14.03L18.25 21.27L11.70 18.00L5.15 21.27L6.23 14.03L1.10 8.80L8.32 7.60Z"/></svg></i></div>
<div class="it" style="left:89.6px;top:829.3px"><svg class="spk" viewBox="0 0 24 24"><path d="M3 9v6h4l5 5V4L7 9H3zm13.5 3c0-1.77-1.02-3.29-2.5-4.03v8.05c1.48-.73 2.5-2.25 2.5-4.02zM14 3.23v2.06c2.89.86 5 3.54 5 6.71s-2.11 5.85-5 6.71v2.06c4.01-.91 7-4.49 7-8.77s-2.99-7.86-7-8.77z"/></svg><span class="nm" style="font-size:28.368px;letter-spacing:0.525px">Florian</span><i class="g m" style="left:172.9px"><svg class="gm" viewBox="0 0 12 22"><circle cx="6" cy="16.3" r="3.85"/><path d="M6 12.4V1.9M1.9 6.3L6 1.8L10.1 6.3"/></svg></i><i class="s" style="left:191.3px"><svg class="st" viewBox="0 0 23.4 22.6"><path d="M11.70 1.10L15.08 7.60L22.30 8.80L17.17 14.03L18.25 21.27L11.70 18.00L5.15 21.27L6.23 14.03L1.10 8.80L8.32 7.60Z"/></svg></i></div>
<div class="it" style="left:443.2px;top:829.3px"><svg class="spk" viewBox="0 0 24 24"><path d="M3 9v6h4l5 5V4L7 9H3zm13.5 3c0-1.77-1.02-3.29-2.5-4.03v8.05c1.48-.73 2.5-2.25 2.5-4.02zM14 3.23v2.06c2.89.86 5 3.54 5 6.71s-2.11 5.85-5 6.71v2.06c4.01-.91 7-4.49 7-8.77s-2.99-7.86-7-8.77z"/></svg><span class="nm" style="font-size:28.368px;letter-spacing:0.379px">Hans</span><i class="g m" style="left:150.2px"><svg class="gm" viewBox="0 0 12 22"><circle cx="6" cy="16.3" r="3.85"/><path d="M6 12.4V1.9M1.9 6.3L6 1.8L10.1 6.3"/></svg></i></div>
<div class="it" style="left:796.8px;top:829.3px"><svg class="spk" viewBox="0 0 24 24"><path d="M3 9v6h4l5 5V4L7 9H3zm13.5 3c0-1.77-1.02-3.29-2.5-4.03v8.05c1.48-.73 2.5-2.25 2.5-4.02zM14 3.23v2.06c2.89.86 5 3.54 5 6.71s-2.11 5.85-5 6.71v2.06c4.01-.91 7-4.49 7-8.77s-2.99-7.86-7-8.77z"/></svg><span class="nm" style="font-size:28.368px;letter-spacing:0.396px">Hermann.</span><i class="g m" style="left:210.2px"><svg class="gm" viewBox="0 0 12 22"><circle cx="6" cy="16.3" r="3.85"/><path d="M6 12.4V1.9M1.9 6.3L6 1.8L10.1 6.3"/></svg></i><i class="s" style="left:228.6px"><svg class="st" viewBox="0 0 23.4 22.6"><path d="M11.70 1.10L15.08 7.60L22.30 8.80L17.17 14.03L18.25 21.27L11.70 18.00L5.15 21.27L6.23 14.03L1.10 8.80L8.32 7.60Z"/></svg></i></div>
<div class="it" style="left:1150.4px;top:829.3px"><svg class="spk" viewBox="0 0 24 24"><path d="M3 9v6h4l5 5V4L7 9H3zm13.5 3c0-1.77-1.02-3.29-2.5-4.03v8.05c1.48-.73 2.5-2.25 2.5-4.02zM14 3.23v2.06c2.89.86 5 3.54 5 6.71s-2.11 5.85-5 6.71v2.06c4.01-.91 7-4.49 7-8.77s-2.99-7.86-7-8.77z"/></svg><span class="nm" style="font-size:28.368px;letter-spacing:-0.859px">Jonas</span><i class="g m" style="left:153.9px"><svg class="gm" viewBox="0 0 12 22"><circle cx="6" cy="16.3" r="3.85"/><path d="M6 12.4V1.9M1.9 6.3L6 1.8L10.1 6.3"/></svg></i></div>
<div class="it" style="left:1504.0px;top:829.3px"><svg class="spk" viewBox="0 0 24 24"><path d="M3 9v6h4l5 5V4L7 9H3zm13.5 3c0-1.77-1.02-3.29-2.5-4.03v8.05c1.48-.73 2.5-2.25 2.5-4.02zM14 3.23v2.06c2.89.86 5 3.54 5 6.71s-2.11 5.85-5 6.71v2.06c4.01-.91 7-4.49 7-8.77s-2.99-7.86-7-8.77z"/></svg><span class="nm" style="font-size:28.368px;letter-spacing:-0.164px">Julian</span><i class="g m" style="left:155.6px"><svg class="gm" viewBox="0 0 12 22"><circle cx="6" cy="16.3" r="3.85"/><path d="M6 12.4V1.9M1.9 6.3L6 1.8L10.1 6.3"/></svg></i><i class="s" style="left:174.0px"><svg class="st" viewBox="0 0 23.4 22.6"><path d="M11.70 1.10L15.08 7.60L22.30 8.80L17.17 14.03L18.25 21.27L11.70 18.00L5.15 21.27L6.23 14.03L1.10 8.80L8.32 7.60Z"/></svg></i></div>
<div class="it" style="left:89.6px;top:900.4px"><svg class="spk" viewBox="0 0 24 24"><path d="M3 9v6h4l5 5V4L7 9H3zm13.5 3c0-1.77-1.02-3.29-2.5-4.03v8.05c1.48-.73 2.5-2.25 2.5-4.02zM14 3.23v2.06c2.89.86 5 3.54 5 6.71s-2.11 5.85-5 6.71v2.06c4.01-.91 7-4.49 7-8.77s-2.99-7.86-7-8.77z"/></svg><span class="nm" style="font-size:28.368px;letter-spacing:-0.292px">Jürgen</span><i class="g m" style="left:167.5px"><svg class="gm" viewBox="0 0 12 22"><circle cx="6" cy="16.3" r="3.85"/><path d="M6 12.4V1.9M1.9 6.3L6 1.8L10.1 6.3"/></svg></i></div>
<div class="it" style="left:443.2px;top:900.4px"><svg class="spk" viewBox="0 0 24 24"><path d="M3 9v6h4l5 5V4L7 9H3zm13.5 3c0-1.77-1.02-3.29-2.5-4.03v8.05c1.48-.73 2.5-2.25 2.5-4.02zM14 3.23v2.06c2.89.86 5 3.54 5 6.71s-2.11 5.85-5 6.71v2.06c4.01-.91 7-4.49 7-8.77s-2.99-7.86-7-8.77z"/></svg><span class="nm" style="font-size:28.368px;letter-spacing:0.076px">Kasper</span><i class="g m" style="left:172.8px"><svg class="gm" viewBox="0 0 12 22"><circle cx="6" cy="16.3" r="3.85"/><path d="M6 12.4V1.9M1.9 6.3L6 1.8L10.1 6.3"/></svg></i></div>
<div class="it" style="left:796.8px;top:900.4px"><svg class="spk" viewBox="0 0 24 24"><path d="M3 9v6h4l5 5V4L7 9H3zm13.5 3c0-1.77-1.02-3.29-2.5-4.03v8.05c1.48-.73 2.5-2.25 2.5-4.02zM14 3.23v2.06c2.89.86 5 3.54 5 6.71s-2.11 5.85-5 6.71v2.06c4.01-.91 7-4.49 7-8.77s-2.99-7.86-7-8.77z"/></svg><span class="nm" style="font-size:28.368px;letter-spacing:0.833px">Killian</span><i class="g m" style="left:164.0px"><svg class="gm" viewBox="0 0 12 22"><circle cx="6" cy="16.3" r="3.85"/><path d="M6 12.4V1.9M1.9 6.3L6 1.8L10.1 6.3"/></svg></i></div>
<div class="it" style="left:1150.4px;top:900.4px"><svg class="spk" viewBox="0 0 24 24"><path d="M3 9v6h4l5 5V4L7 9H3zm13.5 3c0-1.77-1.02-3.29-2.5-4.03v8.05c1.48-.73 2.5-2.25 2.5-4.02zM14 3.23v2.06c2.89.86 5 3.54 5 6.71s-2.11 5.85-5 6.71v2.06c4.01-.91 7-4.49 7-8.77s-2.99-7.86-7-8.77z"/></svg><span class="nm" style="font-size:28.368px;letter-spacing:0.388px">Klaus</span><i class="g m" style="left:155.4px"><svg class="gm" viewBox="0 0 12 22"><circle cx="6" cy="16.3" r="3.85"/><path d="M6 12.4V1.9M1.9 6.3L6 1.8L10.1 6.3"/></svg></i></div>
<div class="it" style="left:1504.0px;top:900.4px"><svg class="spk" viewBox="0 0 24 24"><path d="M3 9v6h4l5 5V4L7 9H3zm13.5 3c0-1.77-1.02-3.29-2.5-4.03v8.05c1.48-.73 2.5-2.25 2.5-4.02zM14 3.23v2.06c2.89.86 5 3.54 5 6.71s-2.11 5.85-5 6.71v2.06c4.01-.91 7-4.49 7-8.77s-2.99-7.86-7-8.77z"/></svg><span class="nm" style="font-size:28.368px;letter-spacing:0.133px">Leon</span><i class="g m" style="left:146.1px"><svg class="gm" viewBox="0 0 12 22"><circle cx="6" cy="16.3" r="3.85"/><path d="M6 12.4V1.9M1.9 6.3L6 1.8L10.1 6.3"/></svg></i><i class="s" style="left:164.5px"><svg class="st" viewBox="0 0 23.4 22.6"><path d="M11.70 1.10L15.08 7.60L22.30 8.80L17.17 14.03L18.25 21.27L11.70 18.00L5.15 21.27L6.23 14.03L1.10 8.80L8.32 7.60Z"/></svg></i></div>
<div class="it" style="left:89.6px;top:971.4px"><svg class="spk" viewBox="0 0 24 24"><path d="M3 9v6h4l5 5V4L7 9H3zm13.5 3c0-1.77-1.02-3.29-2.5-4.03v8.05c1.48-.73 2.5-2.25 2.5-4.02zM14 3.23v2.06c2.89.86 5 3.54 5 6.71s-2.11 5.85-5 6.71v2.06c4.01-.91 7-4.49 7-8.77s-2.99-7.86-7-8.77z"/></svg><span class="nm" style="font-size:28.368px;letter-spacing:1.154px">Ludwig</span><i class="g m" style="left:179.3px"><svg class="gm" viewBox="0 0 12 22"><circle cx="6" cy="16.3" r="3.85"/><path d="M6 12.4V1.9M1.9 6.3L6 1.8L10.1 6.3"/></svg></i><i class="s" style="left:197.7px"><svg class="st" viewBox="0 0 23.4 22.6"><path d="M11.70 1.10L15.08 7.60L22.30 8.80L17.17 14.03L18.25 21.27L11.70 18.00L5.15 21.27L6.23 14.03L1.10 8.80L8.32 7.60Z"/></svg></i></div>
<div class="it" style="left:443.2px;top:971.4px"><svg class="spk" viewBox="0 0 24 24"><path d="M3 9v6h4l5 5V4L7 9H3zm13.5 3c0-1.77-1.02-3.29-2.5-4.03v8.05c1.48-.73 2.5-2.25 2.5-4.02zM14 3.23v2.06c2.89.86 5 3.54 5 6.71s-2.11 5.85-5 6.71v2.06c4.01-.91 7-4.49 7-8.77s-2.99-7.86-7-8.77z"/></svg><span class="nm" style="font-size:28.368px;letter-spacing:-0.034px">Lukas</span><i class="g m" style="left:158.0px"><svg class="gm" viewBox="0 0 12 22"><circle cx="6" cy="16.3" r="3.85"/><path d="M6 12.4V1.9M1.9 6.3L6 1.8L10.1 6.3"/></svg></i></div>
<div class="it" style="left:796.8px;top:971.4px"><svg class="spk" viewBox="0 0 24 24"><path d="M3 9v6h4l5 5V4L7 9H3zm13.5 3c0-1.77-1.02-3.29-2.5-4.03v8.05c1.48-.73 2.5-2.25 2.5-4.02zM14 3.23v2.06c2.89.86 5 3.54 5 6.71s-2.11 5.85-5 6.71v2.06c4.01-.91 7-4.49 7-8.77s-2.99-7.86-7-8.77z"/></svg><span class="nm" style="font-size:28.368px;letter-spacing:1.062px">Martin</span><i class="g m" style="left:167.7px"><svg class="gm" viewBox="0 0 12 22"><circle cx="6" cy="16.3" r="3.85"/><path d="M6 12.4V1.9M1.9 6.3L6 1.8L10.1 6.3"/></svg></i><i class="s" style="left:186.1px"><svg class="st" viewBox="0 0 23.4 22.6"><path d="M11.70 1.10L15.08 7.60L22.30 8.80L17.17 14.03L18.25 21.27L11.70 18.00L5.15 21.27L6.23 14.03L1.10 8.80L8.32 7.60Z"/></svg></i></div>
<div class="it" style="left:1150.4px;top:971.4px"><svg class="spk" viewBox="0 0 24 24"><path d="M3 9v6h4l5 5V4L7 9H3zm13.5 3c0-1.77-1.02-3.29-2.5-4.03v8.05c1.48-.73 2.5-2.25 2.5-4.02zM14 3.23v2.06c2.89.86 5 3.54 5 6.71s-2.11 5.85-5 6.71v2.06c4.01-.91 7-4.49 7-8.77s-2.99-7.86-7-8.77z"/></svg><span class="nm" style="font-size:28.368px;letter-spacing:0.725px">Matthias</span><i class="g m" style="left:195.5px"><svg class="gm" viewBox="0 0 12 22"><circle cx="6" cy="16.3" r="3.85"/><path d="M6 12.4V1.9M1.9 6.3L6 1.8L10.1 6.3"/></svg></i><i class="s" style="left:213.9px"><svg class="st" viewBox="0 0 23.4 22.6"><path d="M11.70 1.10L15.08 7.60L22.30 8.80L17.17 14.03L18.25 21.27L11.70 18.00L5.15 21.27L6.23 14.03L1.10 8.80L8.32 7.60Z"/></svg></i></div>
<div class="it" style="left:1504.0px;top:971.4px"><svg class="spk" viewBox="0 0 24 24"><path d="M3 9v6h4l5 5V4L7 9H3zm13.5 3c0-1.77-1.02-3.29-2.5-4.03v8.05c1.48-.73 2.5-2.25 2.5-4.02zM14 3.23v2.06c2.89.86 5 3.54 5 6.71s-2.11 5.85-5 6.71v2.06c4.01-.91 7-4.49 7-8.77s-2.99-7.86-7-8.77z"/></svg><span class="nm" style="font-size:28.368px;letter-spacing:0.713px">Maximilian</span><i class="g m" style="left:223.6px"><svg class="gm" viewBox="0 0 12 22"><circle cx="6" cy="16.3" r="3.85"/><path d="M6 12.4V1.9M1.9 6.3L6 1.8L10.1 6.3"/></svg></i><i class="s" style="left:242.0px"><svg class="st" viewBox="0 0 23.4 22.6"><path d="M11.70 1.10L15.08 7.60L22.30 8.80L17.17 14.03L18.25 21.27L11.70 18.00L5.15 21.27L6.23 14.03L1.10 8.80L8.32 7.60Z"/></svg></i></div>
<div class="it" style="left:89.6px;top:1042.5px"><svg class="spk" viewBox="0 0 24 24"><path d="M3 9v6h4l5 5V4L7 9H3zm13.5 3c0-1.77-1.02-3.29-2.5-4.03v8.05c1.48-.73 2.5-2.25 2.5-4.02zM14 3.23v2.06c2.89.86 5 3.54 5 6.71s-2.11 5.85-5 6.71v2.06c4.01-.91 7-4.49 7-8.77s-2.99-7.86-7-8.77z"/></svg><span class="nm" style="font-size:28.368px;letter-spacing:0.864px">Maximillian</span><i class="g m" style="left:232.3px"><svg class="gm" viewBox="0 0 12 22"><circle cx="6" cy="16.3" r="3.85"/><path d="M6 12.4V1.9M1.9 6.3L6 1.8L10.1 6.3"/></svg></i><i class="s" style="left:250.7px"><svg class="st" viewBox="0 0 23.4 22.6"><path d="M11.70 1.10L15.08 7.60L22.30 8.80L17.17 14.03L18.25 21.27L11.70 18.00L5.15 21.27L6.23 14.03L1.10 8.80L8.32 7.60Z"/></svg></i></div>
<div class="it" style="left:443.2px;top:1042.5px"><svg class="spk" viewBox="0 0 24 24"><path d="M3 9v6h4l5 5V4L7 9H3zm13.5 3c0-1.77-1.02-3.29-2.5-4.03v8.05c1.48-.73 2.5-2.25 2.5-4.02zM14 3.23v2.06c2.89.86 5 3.54 5 6.71s-2.11 5.85-5 6.71v2.06c4.01-.91 7-4.49 7-8.77s-2.99-7.86-7-8.77z"/></svg><span class="nm" style="font-size:28.368px;letter-spacing:0.786px">Moritz</span><i class="g m" style="left:164.4px"><svg class="gm" viewBox="0 0 12 22"><circle cx="6" cy="16.3" r="3.85"/><path d="M6 12.4V1.9M1.9 6.3L6 1.8L10.1 6.3"/></svg></i><i class="s" style="left:182.8px"><svg class="st" viewBox="0 0 23.4 22.6"><path d="M11.70 1.10L15.08 7.60L22.30 8.80L17.17 14.03L18.25 21.27L11.70 18.00L5.15 21.27L6.23 14.03L1.10 8.80L8.32 7.60Z"/></svg></i></div>
<div class="it" style="left:796.8px;top:1042.5px"><svg class="spk" viewBox="0 0 24 24"><path d="M3 9v6h4l5 5V4L7 9H3zm13.5 3c0-1.77-1.02-3.29-2.5-4.03v8.05c1.48-.73 2.5-2.25 2.5-4.02zM14 3.23v2.06c2.89.86 5 3.54 5 6.71s-2.11 5.85-5 6.71v2.06c4.01-.91 7-4.49 7-8.77s-2.99-7.86-7-8.77z"/></svg><span class="nm" style="font-size:28.368px;letter-spacing:0.583px">Niklas</span><i class="g m" style="left:163.2px"><svg class="gm" viewBox="0 0 12 22"><circle cx="6" cy="16.3" r="3.85"/><path d="M6 12.4V1.9M1.9 6.3L6 1.8L10.1 6.3"/></svg></i><i class="s" style="left:181.6px"><svg class="st" viewBox="0 0 23.4 22.6"><path d="M11.70 1.10L15.08 7.60L22.30 8.80L17.17 14.03L18.25 21.27L11.70 18.00L5.15 21.27L6.23 14.03L1.10 8.80L8.32 7.60Z"/></svg></i></div>
<div class="it" style="left:1150.4px;top:1042.5px"><svg class="spk" viewBox="0 0 24 24"><path d="M3 9v6h4l5 5V4L7 9H3zm13.5 3c0-1.77-1.02-3.29-2.5-4.03v8.05c1.48-.73 2.5-2.25 2.5-4.02zM14 3.23v2.06c2.89.86 5 3.54 5 6.71s-2.11 5.85-5 6.71v2.06c4.01-.91 7-4.49 7-8.77s-2.99-7.86-7-8.77z"/></svg><span class="nm" style="font-size:28.368px;letter-spacing:0.099px">Oskar.</span><i class="g m" style="left:165.0px"><svg class="gm" viewBox="0 0 12 22"><circle cx="6" cy="16.3" r="3.85"/><path d="M6 12.4V1.9M1.9 6.3L6 1.8L10.1 6.3"/></svg></i><i class="s" style="left:183.4px"><svg class="st" viewBox="0 0 23.4 22.6"><path d="M11.70 1.10L15.08 7.60L22.30 8.80L17.17 14.03L18.25 21.27L11.70 18.00L5.15 21.27L6.23 14.03L1.10 8.80L8.32 7.60Z"/></svg></i></div>
<div class="it" style="left:1504.0px;top:1042.5px"><svg class="spk" viewBox="0 0 24 24"><path d="M3 9v6h4l5 5V4L7 9H3zm13.5 3c0-1.77-1.02-3.29-2.5-4.03v8.05c1.48-.73 2.5-2.25 2.5-4.02zM14 3.23v2.06c2.89.86 5 3.54 5 6.71s-2.11 5.85-5 6.71v2.06c4.01-.91 7-4.49 7-8.77s-2.99-7.86-7-8.77z"/></svg><span class="nm" style="font-size:28.368px;letter-spacing:0.297px">Paul</span><i class="g m" style="left:140.5px"><svg class="gm" viewBox="0 0 12 22"><circle cx="6" cy="16.3" r="3.85"/><path d="M6 12.4V1.9M1.9 6.3L6 1.8L10.1 6.3"/></svg></i><i class="s" style="left:158.9px"><svg class="st" viewBox="0 0 23.4 22.6"><path d="M11.70 1.10L15.08 7.60L22.30 8.80L17.17 14.03L18.25 21.27L11.70 18.00L5.15 21.27L6.23 14.03L1.10 8.80L8.32 7.60Z"/></svg></i></div>
<div class="it" style="left:89.6px;top:1113.5px"><svg class="spk" viewBox="0 0 24 24"><path d="M3 9v6h4l5 5V4L7 9H3zm13.5 3c0-1.77-1.02-3.29-2.5-4.03v8.05c1.48-.73 2.5-2.25 2.5-4.02zM14 3.23v2.06c2.89.86 5 3.54 5 6.71s-2.11 5.85-5 6.71v2.06c4.01-.91 7-4.49 7-8.77s-2.99-7.86-7-8.77z"/></svg><span class="nm" style="font-size:28.368px;letter-spacing:0.830px">Philipp</span><i class="g m" style="left:173.5px"><svg class="gm" viewBox="0 0 12 22"><circle cx="6" cy="16.3" r="3.85"/><path d="M6 12.4V1.9M1.9 6.3L6 1.8L10.1 6.3"/></svg></i><i class="s" style="left:191.9px"><svg class="st" viewBox="0 0 23.4 22.6"><path d="M11.70 1.10L15.08 7.60L22.30 8.80L17.17 14.03L18.25 21.27L11.70 18.00L5.15 21.27L6.23 14.03L1.10 8.80L8.32 7.60Z"/></svg></i></div>
<div class="it" style="left:443.2px;top:1113.5px"><svg class="spk" viewBox="0 0 24 24"><path d="M3 9v6h4l5 5V4L7 9H3zm13.5 3c0-1.77-1.02-3.29-2.5-4.03v8.05c1.48-.73 2.5-2.25 2.5-4.02zM14 3.23v2.06c2.89.86 5 3.54 5 6.71s-2.11 5.85-5 6.71v2.06c4.01-.91 7-4.49 7-8.77s-2.99-7.86-7-8.77z"/></svg><span class="nm" style="font-size:28.368px;letter-spacing:0.613px">Ralf</span><i class="g m" style="left:135.4px"><svg class="gm" viewBox="0 0 12 22"><circle cx="6" cy="16.3" r="3.85"/><path d="M6 12.4V1.9M1.9 6.3L6 1.8L10.1 6.3"/></svg></i></div>
<div class="it" style="left:796.8px;top:1113.5px"><svg class="spk" viewBox="0 0 24 24"><path d="M3 9v6h4l5 5V4L7 9H3zm13.5 3c0-1.77-1.02-3.29-2.5-4.03v8.05c1.48-.73 2.5-2.25 2.5-4.02zM14 3.23v2.06c2.89.86 5 3.54 5 6.71s-2.11 5.85-5 6.71v2.06c4.01-.91 7-4.49 7-8.77s-2.99-7.86-7-8.77z"/></svg><span class="nm" style="font-size:28.368px;letter-spacing:0.209px">Reinhard</span><i class="g m" style="left:199.3px"><svg class="gm" viewBox="0 0 12 22"><circle cx="6" cy="16.3" r="3.85"/><path d="M6 12.4V1.9M1.9 6.3L6 1.8L10.1 6.3"/></svg></i><i class="s" style="left:217.7px"><svg class="st" viewBox="0 0 23.4 22.6"><path d="M11.70 1.10L15.08 7.60L22.30 8.80L17.17 14.03L18.25 21.27L11.70 18.00L5.15 21.27L6.23 14.03L1.10 8.80L8.32 7.60Z"/></svg></i></div>
<div class="it" style="left:1150.4px;top:1113.5px"><svg class="spk" viewBox="0 0 24 24"><path d="M3 9v6h4l5 5V4L7 9H3zm13.5 3c0-1.77-1.02-3.29-2.5-4.03v8.05c1.48-.73 2.5-2.25 2.5-4.02zM14 3.23v2.06c2.89.86 5 3.54 5 6.71s-2.11 5.85-5 6.71v2.06c4.01-.91 7-4.49 7-8.77s-2.99-7.86-7-8.77z"/></svg><span class="nm" style="font-size:28.368px;letter-spacing:0.248px">Sebastian</span><i class="g m" style="left:210.9px"><svg class="gm" viewBox="0 0 12 22"><circle cx="6" cy="16.3" r="3.85"/><path d="M6 12.4V1.9M1.9 6.3L6 1.8L10.1 6.3"/></svg></i><i class="s" style="left:229.3px"><svg class="st" viewBox="0 0 23.4 22.6"><path d="M11.70 1.10L15.08 7.60L22.30 8.80L17.17 14.03L18.25 21.27L11.70 18.00L5.15 21.27L6.23 14.03L1.10 8.80L8.32 7.60Z"/></svg></i></div>
<div class="it" style="left:1504.0px;top:1113.5px"><svg class="spk" viewBox="0 0 24 24"><path d="M3 9v6h4l5 5V4L7 9H3zm13.5 3c0-1.77-1.02-3.29-2.5-4.03v8.05c1.48-.73 2.5-2.25 2.5-4.02zM14 3.23v2.06c2.89.86 5 3.54 5 6.71s-2.11 5.85-5 6.71v2.06c4.01-.91 7-4.49 7-8.77s-2.99-7.86-7-8.77z"/></svg><span class="nm" style="font-size:28.368px;letter-spacing:0.453px">Stefan</span><i class="g m" style="left:167.2px"><svg class="gm" viewBox="0 0 12 22"><circle cx="6" cy="16.3" r="3.85"/><path d="M6 12.4V1.9M1.9 6.3L6 1.8L10.1 6.3"/></svg></i><i class="s" style="left:185.6px"><svg class="st" viewBox="0 0 23.4 22.6"><path d="M11.70 1.10L15.08 7.60L22.30 8.80L17.17 14.03L18.25 21.27L11.70 18.00L5.15 21.27L6.23 14.03L1.10 8.80L8.32 7.60Z"/></svg></i></div>
<div class="it" style="left:89.6px;top:1184.6px"><svg class="spk" viewBox="0 0 24 24"><path d="M3 9v6h4l5 5V4L7 9H3zm13.5 3c0-1.77-1.02-3.29-2.5-4.03v8.05c1.48-.73 2.5-2.25 2.5-4.02zM14 3.23v2.06c2.89.86 5 3.54 5 6.71s-2.11 5.85-5 6.71v2.06c4.01-.91 7-4.49 7-8.77s-2.99-7.86-7-8.77z"/></svg><span class="nm" style="font-size:28.368px;letter-spacing:-0.334px">Sven.</span><i class="g m" style="left:153.4px"><svg class="gm" viewBox="0 0 12 22"><circle cx="6" cy="16.3" r="3.85"/><path d="M6 12.4V1.9M1.9 6.3L6 1.8L10.1 6.3"/></svg></i><i class="s" style="left:171.8px"><svg class="st" viewBox="0 0 23.4 22.6"><path d="M11.70 1.10L15.08 7.60L22.30 8.80L17.17 14.03L18.25 21.27L11.70 18.00L5.15 21.27L6.23 14.03L1.10 8.80L8.32 7.60Z"/></svg></i></div>
<div class="it" style="left:443.2px;top:1184.6px"><svg class="spk" viewBox="0 0 24 24"><path d="M3 9v6h4l5 5V4L7 9H3zm13.5 3c0-1.77-1.02-3.29-2.5-4.03v8.05c1.48-.73 2.5-2.25 2.5-4.02zM14 3.23v2.06c2.89.86 5 3.54 5 6.71s-2.11 5.85-5 6.71v2.06c4.01-.91 7-4.49 7-8.77s-2.99-7.86-7-8.77z"/></svg><span class="nm" style="font-size:28.368px;letter-spacing:0.438px">Theo</span><i class="g m" style="left:148.9px"><svg class="gm" viewBox="0 0 12 22"><circle cx="6" cy="16.3" r="3.85"/><path d="M6 12.4V1.9M1.9 6.3L6 1.8L10.1 6.3"/></svg></i><i class="s" style="left:167.3px"><svg class="st" viewBox="0 0 23.4 22.6"><path d="M11.70 1.10L15.08 7.60L22.30 8.80L17.17 14.03L18.25 21.27L11.70 18.00L5.15 21.27L6.23 14.03L1.10 8.80L8.32 7.60Z"/></svg></i></div>
<div class="it" style="left:796.8px;top:1184.6px"><svg class="spk" viewBox="0 0 24 24"><path d="M3 9v6h4l5 5V4L7 9H3zm13.5 3c0-1.77-1.02-3.29-2.5-4.03v8.05c1.48-.73 2.5-2.25 2.5-4.02zM14 3.23v2.06c2.89.86 5 3.54 5 6.71s-2.11 5.85-5 6.71v2.06c4.01-.91 7-4.49 7-8.77s-2.99-7.86-7-8.77z"/></svg><span class="nm" style="font-size:28.368px;letter-spacing:0.401px">Tobias</span><i class="g m" style="left:166.9px"><svg class="gm" viewBox="0 0 12 22"><circle cx="6" cy="16.3" r="3.85"/><path d="M6 12.4V1.9M1.9 6.3L6 1.8L10.1 6.3"/></svg></i><i class="s" style="left:185.3px"><svg class="st" viewBox="0 0 23.4 22.6"><path d="M11.70 1.10L15.08 7.60L22.30 8.80L17.17 14.03L18.25 21.27L11.70 18.00L5.15 21.27L6.23 14.03L1.10 8.80L8.32 7.60Z"/></svg></i></div>
<div class="it" style="left:1150.4px;top:1184.6px"><svg class="spk" viewBox="0 0 24 24"><path d="M3 9v6h4l5 5V4L7 9H3zm13.5 3c0-1.77-1.02-3.29-2.5-4.03v8.05c1.48-.73 2.5-2.25 2.5-4.02zM14 3.23v2.06c2.89.86 5 3.54 5 6.71s-2.11 5.85-5 6.71v2.06c4.01-.91 7-4.49 7-8.77s-2.99-7.86-7-8.77z"/></svg><span class="nm" style="font-size:28.368px;letter-spacing:1.260px">Uwe</span><i class="g m" style="left:143.0px"><svg class="gm" viewBox="0 0 12 22"><circle cx="6" cy="16.3" r="3.85"/><path d="M6 12.4V1.9M1.9 6.3L6 1.8L10.1 6.3"/></svg></i><i class="s" style="left:161.4px"><svg class="st" viewBox="0 0 23.4 22.6"><path d="M11.70 1.10L15.08 7.60L22.30 8.80L17.17 14.03L18.25 21.27L11.70 18.00L5.15 21.27L6.23 14.03L1.10 8.80L8.32 7.60Z"/></svg></i></div>
<div class="it" style="left:1504.0px;top:1184.6px"><svg class="spk" viewBox="0 0 24 24"><path d="M3 9v6h4l5 5V4L7 9H3zm13.5 3c0-1.77-1.02-3.29-2.5-4.03v8.05c1.48-.73 2.5-2.25 2.5-4.02zM14 3.23v2.06c2.89.86 5 3.54 5 6.71s-2.11 5.85-5 6.71v2.06c4.01-.91 7-4.49 7-8.77s-2.99-7.86-7-8.77z"/></svg><span class="nm" style="font-size:28.368px;letter-spacing:1.801px">Wilhelm</span><i class="g m" style="left:196.0px"><svg class="gm" viewBox="0 0 12 22"><circle cx="6" cy="16.3" r="3.85"/><path d="M6 12.4V1.9M1.9 6.3L6 1.8L10.1 6.3"/></svg></i><i class="s" style="left:214.4px"><svg class="st" viewBox="0 0 23.4 22.6"><path d="M11.70 1.10L15.08 7.60L22.30 8.80L17.17 14.03L18.25 21.27L11.70 18.00L5.15 21.27L6.23 14.03L1.10 8.80L8.32 7.60Z"/></svg></i></div>
<div class="it" style="left:89.6px;top:1255.7px"><svg class="spk" viewBox="0 0 24 24"><path d="M3 9v6h4l5 5V4L7 9H3zm13.5 3c0-1.77-1.02-3.29-2.5-4.03v8.05c1.48-.73 2.5-2.25 2.5-4.02zM14 3.23v2.06c2.89.86 5 3.54 5 6.71s-2.11 5.85-5 6.71v2.06c4.01-.91 7-4.49 7-8.77s-2.99-7.86-7-8.77z"/></svg><span class="nm" style="font-size:28.368px;letter-spacing:1.040px">Wolfgang.</span><i class="g m" style="left:219.0px"><svg class="gm" viewBox="0 0 12 22"><circle cx="6" cy="16.3" r="3.85"/><path d="M6 12.4V1.9M1.9 6.3L6 1.8L10.1 6.3"/></svg></i><i class="s" style="left:237.4px"><svg class="st" viewBox="0 0 23.4 22.6"><path d="M11.70 1.10L15.08 7.60L22.30 8.80L17.17 14.03L18.25 21.27L11.70 18.00L5.15 21.27L6.23 14.03L1.10 8.80L8.32 7.60Z"/></svg></i></div>

<!-- show fewer -->
<svg class="abs" style="left:94.500px;top:1339.500px" width="26" height="26" viewBox="0 0 26 26"><path d="M13 23V4.200M4.500 12.700L13 4.200l8.500 8.500" stroke="#6e6e6e" stroke-width="2.400" fill="none" stroke-linecap="round" stroke-linejoin="round"/></svg>
<span class="t" style="left:135px;top:calc(1361.4px - var(--bo));color:#747474;font-weight:700;font-size:27.58px;letter-spacing:0.266px">Show fewer</span>

<!-- footer -->
<div class="abs" style="left:680px;top:1437px;width:22px;height:22px;border:2px solid #767676;border-radius:5px;background:#fff"></div>
<span class="t" style="left:721px;top:calc(1458.8px - var(--bo));font-size:31.126px;letter-spacing:0.436px">Apply this voice to all the voiceovers</span>
<div class="abs" style="left:862px;top:1502px;width:192px;height:67px;border-radius:34px;background:#d41f6b"></div>
<svg class="abs" style="left:897px;top:1523px" width="30" height="26" viewBox="0 0 30 26"><path d="M4 14.500l6.500 6.500L26 5.500" stroke="#fff" stroke-width="2.600" fill="none" stroke-linecap="round" stroke-linejoin="round"/></svg>
<span class="t" style="left:938px;top:calc(1544.8px - var(--bo));color:#fff;font-weight:700;font-size:27.8755px;letter-spacing:-0.065px">Select</span>
</body>
</html>
